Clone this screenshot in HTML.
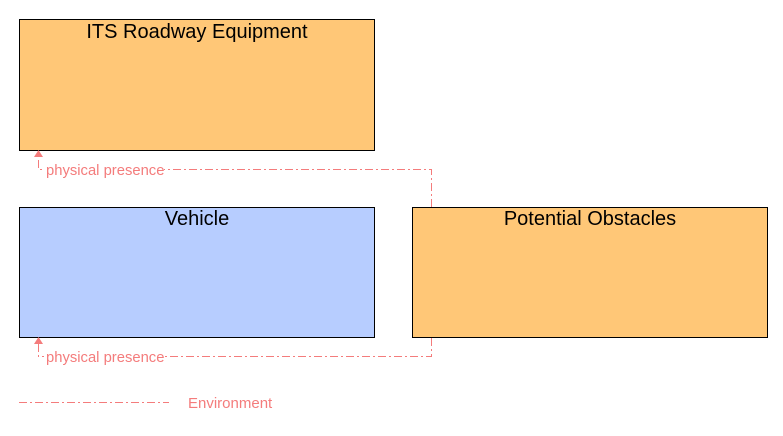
<!DOCTYPE html>
<html><head><style>body{margin:0;background:#fff}</style></head><body>
<svg width="783" height="431" xmlns="http://www.w3.org/2000/svg" font-family="Liberation Sans, sans-serif">
<rect x="19.5" y="19.5" width="355" height="131" fill="#ffc777" stroke="#000"/>
<text x="197" y="38" font-size="20" text-anchor="middle">ITS Roadway Equipment</text>
<rect x="19.5" y="207.5" width="355" height="130" fill="#b7cdff" stroke="#000"/>
<text x="197" y="225" font-size="20" text-anchor="middle">Vehicle</text>
<rect x="412.5" y="207.5" width="355" height="130" fill="#ffc777" stroke="#000"/>
<text x="590" y="225" font-size="20" text-anchor="middle">Potential Obstacles</text>
<g fill="none" stroke="#f47c7c" stroke-dasharray="8,3,2,3">
<polyline points="431.5,207 431.5,169.5 38.5,169.5 38.5,156"/>
<polyline points="431.5,338 431.5,356.5 38.5,356.5 38.5,343"/>
<line x1="19" y1="402.5" x2="169" y2="402.5"/>
</g>
<polygon points="38.5,150 34,157 43,157" fill="#f47c7c"/>
<polygon points="38.5,337 34,344 43,344" fill="#f47c7c"/>
<g fill="#f47c7c" font-size="14.8">
<rect x="44" y="161" width="120" height="16" fill="#fff"/>
<text x="46" y="175">physical presence</text>
<rect x="44" y="348" width="120" height="16" fill="#fff"/>
<text x="46" y="362">physical presence</text>
<text x="188" y="408" font-size="15">Environment</text>
</g>
</svg>
</body></html>
